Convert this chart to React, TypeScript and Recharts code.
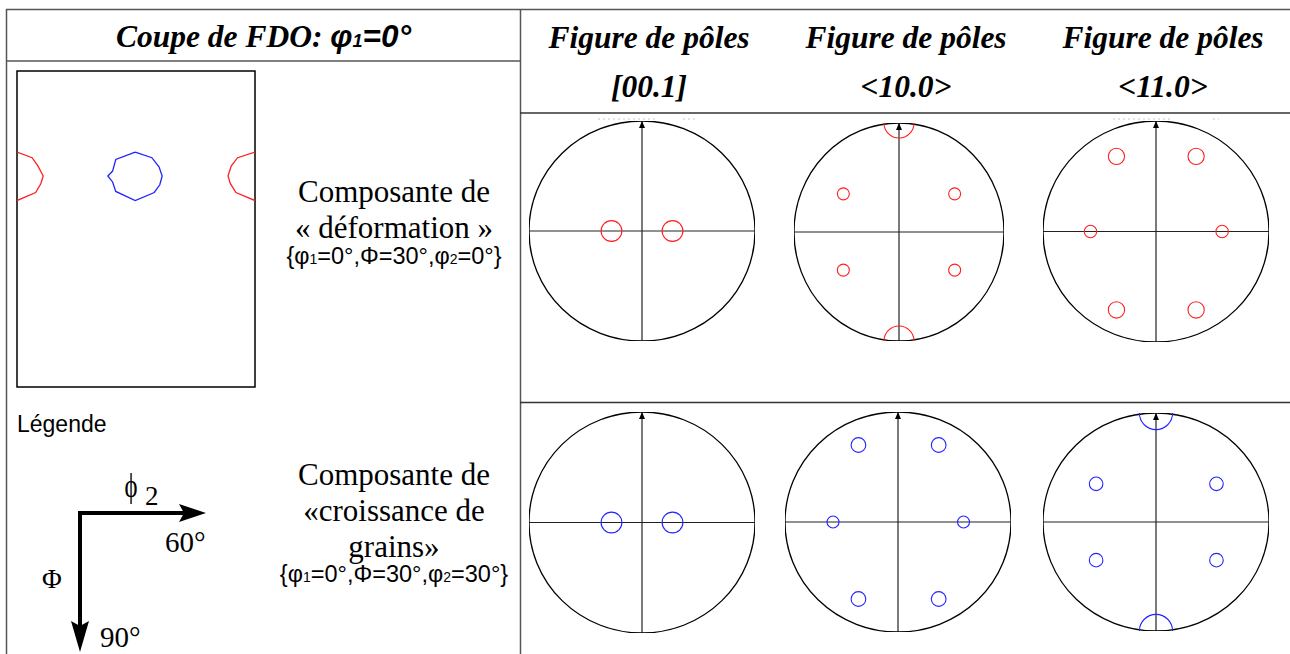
import React from 'react';
import { ScatterChart, Scatter, XAxis, YAxis, ReferenceLine, ReferenceArea } from 'recharts';

// ---------- ODF section (phi1 = 0°) : contour lines, phi2 in degrees (0-60), Phi in degrees (0-90)
const odfBlueContour = [
  { phi2: 29.8, Phi: 23.1 }, { phi2: 34.0, Phi: 24.7 }, { phi2: 35.8, Phi: 27.3 }, { phi2: 36.6, Phi: 29.9 },
  { phi2: 36.0, Phi: 32.4 }, { phi2: 34.6, Phi: 34.6 }, { phi2: 29.8, Phi: 36.9 }, { phi2: 24.9, Phi: 34.3 },
  { phi2: 24.1, Phi: 31.6 }, { phi2: 22.9, Phi: 29.9 }, { phi2: 24.1, Phi: 28.5 }, { phi2: 24.9, Phi: 25.2 },
  { phi2: 29.8, Phi: 23.1 },
];
const odfRedContourLeft = [
  { phi2: 0, Phi: 23.1 }, { phi2: 3.8, Phi: 24.7 }, { phi2: 5.3, Phi: 27.1 }, { phi2: 6.6, Phi: 29.9 },
  { phi2: 6.0, Phi: 32.1 }, { phi2: 4.7, Phi: 34.6 }, { phi2: 0, Phi: 36.9 },
];
const odfRedContourRight = [
  { phi2: 60, Phi: 23.1 }, { phi2: 55.6, Phi: 24.7 }, { phi2: 54.0, Phi: 27.1 }, { phi2: 53.2, Phi: 29.9 },
  { phi2: 53.8, Phi: 32.1 }, { phi2: 55.2, Phi: 34.6 }, { phi2: 60, Phi: 36.9 },
];

// ---------- Pole figures : pole density spots (x, y in unit-circle coords, r = spot radius)
const pf001Deformation = [
  { x: -0.27, y: 0, r: 0.092 }, { x: 0.27, y: 0, r: 0.092 },
];
const pf100Deformation = [
  { x: -0.53, y: 0.35, r: 0.057 }, { x: 0.53, y: 0.35, r: 0.057 },
  { x: -0.53, y: -0.35, r: 0.057 }, { x: 0.53, y: -0.35, r: 0.057 },
  { x: 0, y: 1, r: 0.143 }, { x: 0, y: -1, r: 0.143 },
];
const pf110Deformation = [
  { x: -0.35, y: 0.68, r: 0.072 }, { x: 0.355, y: 0.68, r: 0.072 },
  { x: -0.58, y: 0, r: 0.055 }, { x: 0.585, y: 0, r: 0.055 },
  { x: -0.35, y: -0.71, r: 0.072 }, { x: 0.355, y: -0.71, r: 0.072 },
];
const pf001Growth = [
  { x: -0.27, y: 0, r: 0.092 }, { x: 0.27, y: 0, r: 0.092 },
];
const pf100Growth = [
  { x: -0.35, y: 0.7, r: 0.065 }, { x: 0.36, y: 0.7, r: 0.065 },
  { x: -0.575, y: 0, r: 0.053 }, { x: 0.58, y: 0, r: 0.053 },
  { x: -0.35, y: -0.7, r: 0.065 }, { x: 0.36, y: -0.7, r: 0.065 },
];
const pf110Growth = [
  { x: -0.53, y: 0.35, r: 0.06 }, { x: 0.535, y: 0.35, r: 0.06 },
  { x: -0.53, y: -0.35, r: 0.06 }, { x: 0.535, y: -0.35, r: 0.06 },
  { x: 0, y: 1, r: 0.147 }, { x: 0, y: -1, r: 0.147 },
];
const projectionCentre = [{ x: 0, y: 0 }];
const northDirection = [{ x: 0, y: 1 }];

// ---------- texts
const headerLeft = 'Coupe de FDO: ';
const poleFigureTitle = 'Figure de pôles';
const poleFigureNames = ['[00.1]', '<10.0>', '<11.0>'];
const componentDeformation = ['Composante de', '« déformation »'];
const componentGrowth = ['Composante de', '«croissance de', 'grains»'];

const RED = '#ff1f1f';
const BLUE = '#2323ff';
const SERIF = "'Liberation Serif', 'Times New Roman', serif";
const SANS = "'Liberation Sans', Arial, sans-serif";

const noDot = () => <g />;

type PFProps = { cx: number; cy: number; rx: number; ry: number; spots: { x: number; y: number; r: number }[]; color: string };

function PoleFigure({ cx, cy, rx, ry, spots, color }: PFProps) {
  const m = 4;
  const rim = (p: any) => (
    <ellipse cx={p.cx} cy={p.cy} rx={rx} ry={ry} fill="none" stroke="#000" strokeWidth={1.3} />
  );
  const arrow = (p: any) => <path d={`M${p.cx},${p.cy} l-3,7 l6,0 z`} fill="#000" />;
  const spot = (p: any) => {
    const r = p.payload.r * rx;
    const yv = p.payload.y;
    if (yv >= 0.99) {
      return <path d={`M${p.cx - r},${p.cy} A${r},${r} 0 0 0 ${p.cx + r},${p.cy}`} fill="none" stroke={color} strokeWidth={1.1} />;
    }
    if (yv <= -0.99) {
      return <path d={`M${p.cx - r},${p.cy} A${r},${r} 0 0 1 ${p.cx + r},${p.cy}`} fill="none" stroke={color} strokeWidth={1.1} />;
    }
    return <circle cx={p.cx} cy={p.cy} r={r} fill="none" stroke={color} strokeWidth={1.1} />;
  };
  return (
    <div style={{ position: 'absolute', left: cx - rx - m, top: cy - ry - m }}>
      <ScatterChart width={2 * rx + 2 * m} height={2 * ry + 2 * m} margin={{ top: m, right: m, bottom: m, left: m }}>
        <XAxis type="number" dataKey="x" domain={[-1, 1]} hide allowDataOverflow />
        <YAxis type="number" dataKey="y" domain={[-1, 1]} hide allowDataOverflow />
        <ReferenceLine x={0} stroke="#222" strokeWidth={1.2} ifOverflow="visible" />
        <ReferenceLine y={0} stroke="#222" strokeWidth={1.2} ifOverflow="visible" />
        <Scatter data={projectionCentre} shape={rim} isAnimationActive={false} />
        <Scatter data={northDirection} shape={arrow} isAnimationActive={false} />
        <Scatter data={spots} shape={spot} isAnimationActive={false} />
      </ScatterChart>
    </div>
  );
}

function OdfSection() {
  const m = 3;
  return (
    <div style={{ position: 'absolute', left: 17 - m, top: 71 - m }}>
      <ScatterChart width={238 + 2 * m} height={316 + 2 * m} margin={{ top: m, right: m, bottom: m, left: m }}>
        <XAxis type="number" dataKey="phi2" domain={[0, 60]} hide allowDataOverflow />
        <YAxis type="number" dataKey="Phi" domain={[0, 90]} reversed hide allowDataOverflow />
        <ReferenceArea x1={0} x2={60} y1={0} y2={90} fill="none" fillOpacity={0} stroke="#000" strokeWidth={1.5} ifOverflow="visible" />
        <Scatter data={odfRedContourLeft} line={{ stroke: RED, strokeWidth: 1.3 }} lineType="joint" shape={noDot} fill={RED} isAnimationActive={false} />
        <Scatter data={odfRedContourRight} line={{ stroke: RED, strokeWidth: 1.3 }} lineType="joint" shape={noDot} fill={RED} isAnimationActive={false} />
        <Scatter data={odfBlueContour} line={{ stroke: BLUE, strokeWidth: 1.3 }} lineType="joint" shape={noDot} fill={BLUE} isAnimationActive={false} />
      </ScatterChart>
    </div>
  );
}

function Frame() {
  const colX = [649, 906, 1163];
  return (
    <svg width={1290} height={654} style={{ position: 'absolute', left: 0, top: 0 }}>
      {/* table lines */}
      <g stroke="#555" strokeWidth={1.5}>
        <line x1={6} y1={9.5} x2={1290} y2={9.5} />
        <line x1={6.5} y1={9} x2={6.5} y2={654} />
        <line x1={520.5} y1={9} x2={520.5} y2={654} />
        <line x1={6} y1={61} x2={520} y2={61} />
        <line x1={520} y1={113} x2={1290} y2={113} stroke="#333" />
        <line x1={520} y1={402.5} x2={1290} y2={402.5} stroke="#333" />
      </g>
      {/* faint residual marks above the projections */}
      <g stroke="#c8c8c8" strokeWidth={1} strokeDasharray="2 3">
        <line x1={598} y1={119} x2={656} y2={119} />
        <line x1={683} y1={119} x2={695} y2={119} />
        <line x1={1113} y1={119} x2={1170} y2={119} />
        <line x1={1213} y1={119} x2={1219} y2={119} />
      </g>
      {/* header left */}
      <text x={263.5} y={47} textAnchor="middle" fontFamily={SERIF} fontWeight="bold" fontStyle="italic" fontSize={31.5}>
        {headerLeft}
        <tspan fontFamily={SANS}>φ</tspan>
        <tspan fontFamily={SANS} fontSize={18}>1</tspan>
        <tspan fontFamily={SANS}>=0°</tspan>
      </text>
      {colX.map((x, i) => (
        <g key={i} fontFamily={SERIF} fontWeight="bold" fontStyle="italic" fontSize={31.5} textAnchor="middle">
          <text x={x} y={48}>{poleFigureTitle}</text>
          <text x={x} y={97}>{poleFigureNames[i]}</text>
        </g>
      ))}
      {/* deformation component */}
      <g fontFamily={SERIF} fontSize={31} textAnchor="middle">
        <text x={394} y={202}>{componentDeformation[0]}</text>
        <text x={394} y={238}>{componentDeformation[1]}</text>
      </g>
      <text x={394} y={264} textAnchor="middle" fontFamily={SANS} fontSize={23.5}>
        {'{φ'}<tspan fontSize={14}>1</tspan>{'=0°,Φ=30°,φ'}<tspan fontSize={14}>2</tspan>{'=0°}'}
      </text>
      {/* growth component */}
      <g fontFamily={SERIF} fontSize={31} textAnchor="middle">
        <text x={394} y={485}>{componentGrowth[0]}</text>
        <text x={394} y={521}>{componentGrowth[1]}</text>
        <text x={394} y={557}>{componentGrowth[2]}</text>
      </g>
      <text x={394} y={582} textAnchor="middle" fontFamily={SANS} fontSize={23.5}>
        {'{φ'}<tspan fontSize={14}>1</tspan>{'=0°,Φ=30°,φ'}<tspan fontSize={14}>2</tspan>{'=30°}'}
      </text>
      {/* legend */}
      <text x={17} y={432} fontFamily={SANS} fontSize={23}>Légende</text>
      <g stroke="#000" strokeWidth={4} fill="none">
        <line x1={80} y1={513} x2={185} y2={513} />
        <line x1={80} y1={511} x2={80} y2={628} />
      </g>
      <path d="M179,504 L206,513 L179,522 L184,513 Z" fill="#000" />
      <path d="M71,621 L80,652 L89,621 L80,626 Z" fill="#000" />
      <text x={131} y={497} textAnchor="middle" fontFamily={SERIF} fontSize={33} transform="translate(131,0) scale(0.75,1) translate(-131,0)">ϕ</text>
      <text x={145} y={505} fontFamily={SERIF} fontSize={27}>2</text>
      <text x={165} y={552} fontFamily={SERIF} fontSize={29}>60°</text>
      <text x={42} y={588} fontFamily={SERIF} fontSize={27}>Φ</text>
      <text x={100} y={647} fontFamily={SERIF} fontSize={29}>90°</text>
    </svg>
  );
}

export default function App() {
  return (
    <div style={{ position: 'absolute', left: 0, top: 0, width: 1290, height: 654, overflow: 'hidden', background: '#fff' }}>
      <Frame />
      <OdfSection />
      <PoleFigure cx={641.7} cy={231} rx={113} ry={110} spots={pf001Deformation} color={RED} />
      <PoleFigure cx={899.3} cy={232} rx={105} ry={109} spots={pf100Deformation} color={RED} />
      <PoleFigure cx={1155.7} cy={231.5} rx={113} ry={110.5} spots={pf110Deformation} color={RED} />
      <PoleFigure cx={641.7} cy={522} rx={113} ry={110.5} spots={pf001Growth} color={BLUE} />
      <PoleFigure cx={898.3} cy={522} rx={113} ry={110} spots={pf100Growth} color={BLUE} />
      <PoleFigure cx={1155.7} cy={522} rx={113} ry={109} spots={pf110Growth} color={BLUE} />
    </div>
  );
}
